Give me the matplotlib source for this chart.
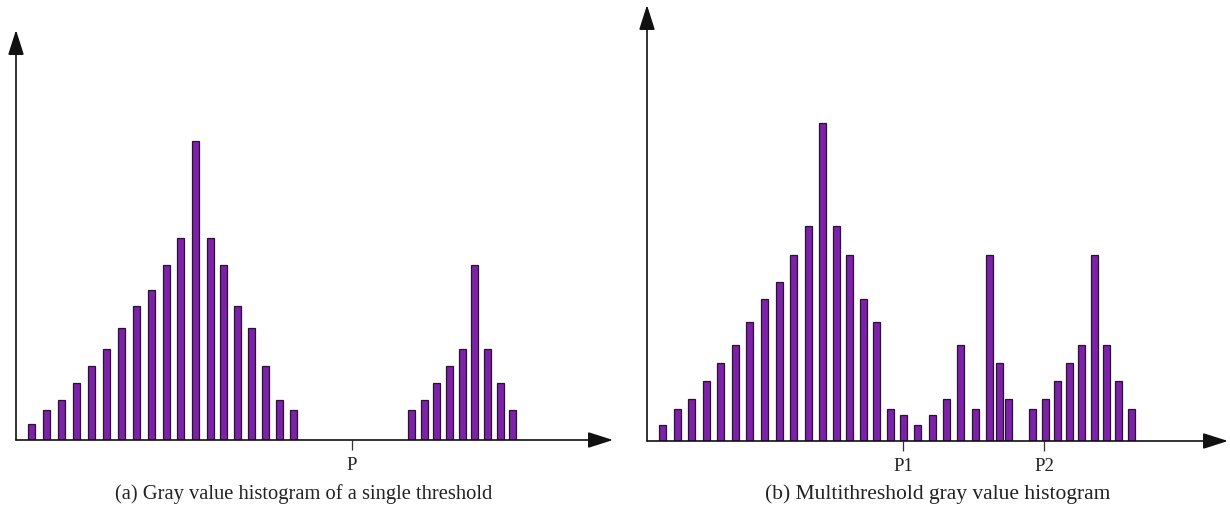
import matplotlib
matplotlib.use("Agg")
import matplotlib.pyplot as plt

# (a) single threshold: gray level positions and counts
gray_a = [15, 30, 45, 60, 75, 90, 105, 120, 135, 150, 164, 179, 194, 207, 221, 235, 249, 263, 277,
          395, 408, 420, 433, 446, 458, 471, 484, 496]
count_a = [16, 30, 40, 57, 74, 91, 112, 134, 150, 175, 202, 299, 202, 175, 134, 112, 74, 40, 30,
           30, 40, 57, 74, 91, 175, 91, 57, 30]
ticks_a = [336]
ticklabels_a = ["P"]

# (b) multithreshold
gray_b = [15, 30, 44, 59, 73, 88, 102, 117, 132, 146, 161, 175, 189, 202, 216, 229, 243, 256, 270, 285,
          299, 313, 328, 342, 352, 361, 385, 398, 410, 422, 434, 447, 459, 471, 484]
count_b = [16, 32, 42, 60, 78, 96, 119, 142, 159, 186, 215, 318, 215, 186, 142, 119, 32, 26, 16, 26,
           42, 96, 32, 186, 78, 42, 32, 42, 60, 78, 96, 186, 96, 60, 32]
ticks_b = [256, 397]
ticklabels_b = ["P1", "P2"]

captions = ["(a) Gray value histogram of a single threshold",
            "(b) Multithreshold gray value histogram"]

W, H = 1230, 520
bar_color = "#7b22a8"
edge_color = "#2a1230"
serif = ["Liberation Serif", "DejaVu Serif"]

fig = plt.figure(figsize=(W / 100, H / 100), dpi=100)


def panel(x0, y0, x1, y1, gray, count, ticks, labels, caption, cap_x, cap_size):
    ax = fig.add_axes([x0 / W, (H - y0) / H, (x1 - x0) / W, (y0 - y1) / H])
    ax.set_xlim(0, x1 - x0)
    ax.set_ylim(0, y0 - y1)
    ax.bar(gray, count, width=7, color=bar_color, edgecolor=edge_color, linewidth=0.9, zorder=2)
    for s in ax.spines.values():
        s.set_visible(False)
    ax.set_xticks(ticks)
    ax.set_xticklabels(labels, family=serif, fontsize=13.5)
    ax.tick_params(axis="x", length=7, width=0.9, color="#333333", pad=5.5, labelcolor="#222222")
    ax.set_yticks([])
    arrow = dict(arrowstyle="-|>,head_length=1.1,head_width=0.35", mutation_scale=14,
                 color="#111111", lw=1.2, shrinkA=0, shrinkB=0)
    ax.annotate("", xy=(1, 0), xytext=(0, 0), xycoords="axes fraction",
                textcoords="axes fraction", arrowprops=arrow, annotation_clip=False)
    ax.annotate("", xy=(0, 1), xytext=(0, 0), xycoords="axes fraction",
                textcoords="axes fraction", arrowprops=arrow, annotation_clip=False)
    fig.text(cap_x / W, 1 - 494 / H, caption, family=serif, fontsize=cap_size,
             ha="center", va="center", color="#222222")
    return ax


panel(16, 440, 613, 30, gray_a, count_a, ticks_a, ticklabels_a, captions[0], 304, 14.8)
panel(647, 441, 1228, 5, gray_b, count_b, ticks_b, ticklabels_b, captions[1], 938, 15.5)

fig.savefig("out.png", dpi=100)
